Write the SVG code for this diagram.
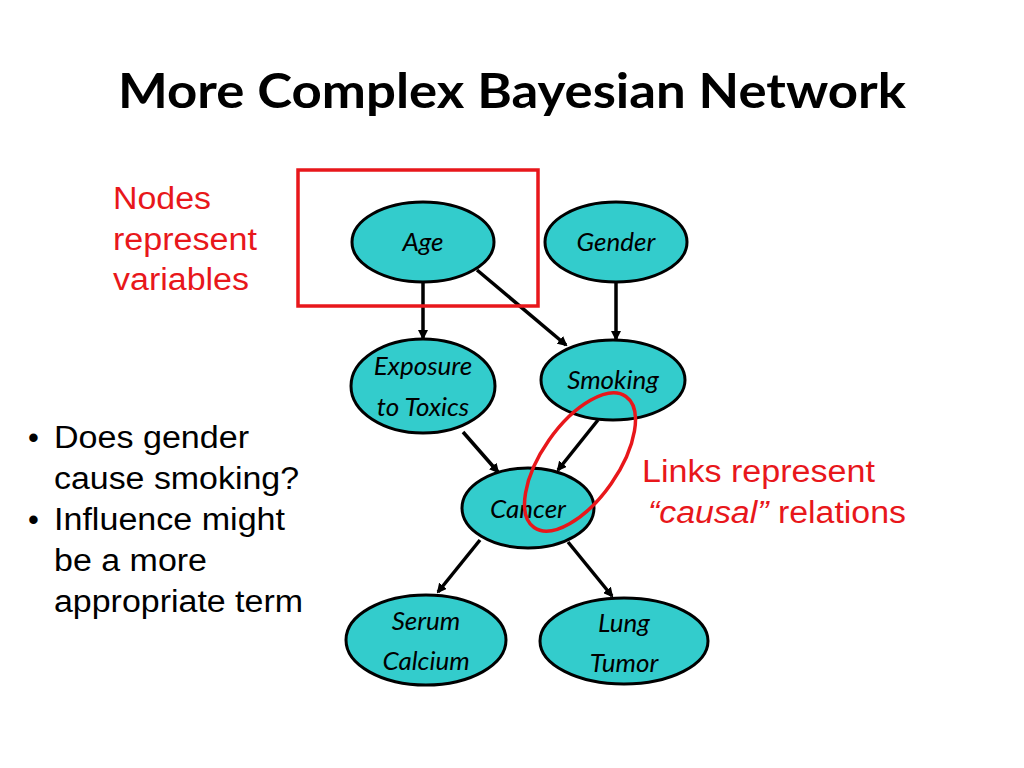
<svg xmlns="http://www.w3.org/2000/svg" width="1024" height="768" viewBox="0 0 1024 768">
<defs>
<marker id="ah" markerWidth="10" markerHeight="10" refX="8" refY="5" orient="auto" markerUnits="userSpaceOnUse"><path d="M0,0 L10,5 L0,10 z" fill="#000"/></marker>
<style>
.n{fill:#33CCCC;stroke:#000;stroke-width:3}
.t{font-family:Lato,"Open Sans",sans-serif;font-style:italic;font-size:26px;text-anchor:middle;fill:#000}
.c{stroke:#000;stroke-width:3.5;marker-end:url(#ah);fill:none}
.a{font-family:"Liberation Sans",Arial,sans-serif;font-size:31px}
</style>
</defs>
<rect width="1024" height="768" fill="#fff"/>
<text x="118" y="108" textLength="788" lengthAdjust="spacingAndGlyphs" font-family="Lato,'Open Sans',sans-serif" font-weight="bold" font-size="48">More Complex Bayesian Network</text>
<g id="connectors">
<line class="c" x1="423" y1="282" x2="423" y2="338"/>
<line class="c" x1="477" y1="270" x2="566" y2="345"/>
<line class="c" x1="616" y1="282" x2="616" y2="339"/>
<line class="c" x1="463" y1="432" x2="498" y2="472"/>
<line class="c" x1="598" y1="420" x2="558" y2="470"/>
<line class="c" x1="480" y1="540" x2="438" y2="592"/>
<line class="c" x1="568" y1="542" x2="612" y2="596"/>
</g>
<g id="age"><ellipse class="n" cx="423" cy="242" rx="71" ry="40"/><text class="t" x="423" y="251">Age</text></g>
<g id="gender"><ellipse class="n" cx="616" cy="242" rx="71" ry="40"/><text class="t" x="616" y="251">Gender</text></g>
<g id="exposure"><ellipse class="n" cx="423" cy="386" rx="72" ry="47"/><text class="t" x="423" y="375">Exposure</text><text class="t" x="423" y="416">to Toxics</text></g>
<g id="smoking"><ellipse class="n" cx="613" cy="380" rx="72" ry="40"/><text class="t" x="613" y="389">Smoking</text></g>
<g id="cancer"><ellipse class="n" cx="528" cy="508" rx="66" ry="40"/><text class="t" x="528" y="518">Cancer</text></g>
<g id="serum"><ellipse class="n" cx="426" cy="640" rx="80" ry="45"/><text class="t" x="426" y="630">Serum</text><text class="t" x="426" y="670">Calcium</text></g>
<g id="lung"><ellipse class="n" cx="624" cy="641" rx="84" ry="43"/><text class="t" x="624" y="632">Lung</text><text class="t" x="624" y="672">Tumor</text></g>
<rect x="298" y="170" width="240" height="136" fill="none" stroke="#E8171B" stroke-width="3.5"/>
<ellipse cx="580" cy="462" rx="38" ry="80" transform="rotate(35 580 462)" fill="none" stroke="#E8171B" stroke-width="3.5"/>
<g class="a" fill="#E8171B">
<text x="113" y="209" textLength="98" lengthAdjust="spacingAndGlyphs">Nodes</text>
<text x="113" y="250" textLength="144" lengthAdjust="spacingAndGlyphs">represent</text>
<text x="113" y="290" textLength="136" lengthAdjust="spacingAndGlyphs">variables</text>
<text x="642" y="482" textLength="233" lengthAdjust="spacingAndGlyphs">Links represent</text>
<text x="648" y="523" textLength="258" lengthAdjust="spacingAndGlyphs"><tspan font-style="italic">“causal”</tspan> relations</text>
</g>
<g class="a" fill="#000">
<text x="28" y="448">•</text><text x="54" y="448" textLength="195" lengthAdjust="spacingAndGlyphs">Does gender</text>
<text x="54" y="489" textLength="245" lengthAdjust="spacingAndGlyphs">cause smoking?</text>
<text x="28" y="530">•</text><text x="54" y="530" textLength="231" lengthAdjust="spacingAndGlyphs">Influence might</text>
<text x="54" y="571" textLength="153" lengthAdjust="spacingAndGlyphs">be a more</text>
<text x="54" y="612" textLength="249" lengthAdjust="spacingAndGlyphs">appropriate term</text>
</g>
</svg>
